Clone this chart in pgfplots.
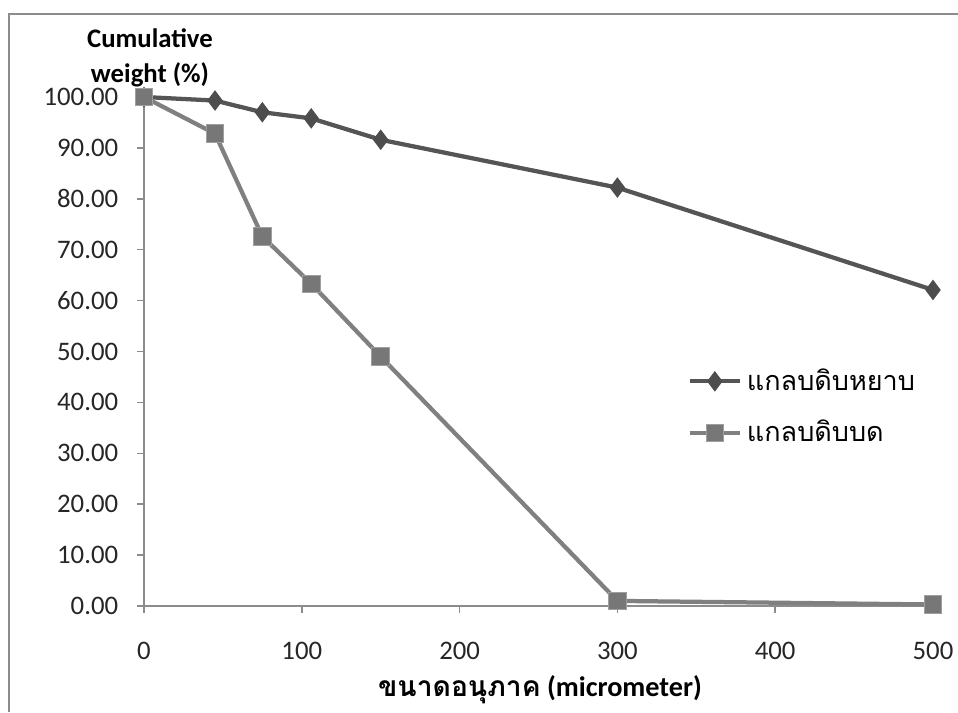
\documentclass[border=0pt]{standalone}
\usepackage{pgfplots}
\pgfplotsset{compat=1.18}
\usepackage{fontspec}
\setmainfont{Carlito}
\newfontfamily\thaifont[Script=Thai]{Loma}
\definecolor{darkser}{HTML}{555555}
\definecolor{darkmark}{HTML}{4D4D4D}
\definecolor{lightser}{HTML}{808080}
\definecolor{lightmark}{HTML}{777777}
\definecolor{axgray}{HTML}{8C8C8C}
\begin{document}
\begin{tikzpicture}
\useasboundingbox (0,0) rectangle (383.2pt,284.8pt);
\draw[axgray, line width=0.8pt] (3.6pt,0) -- (3.6pt,279.2pt) -- (383.2pt,279.2pt);
\begin{axis}[
  at={(57.6pt,42.4pt)}, anchor=south west,
  scale only axis, width=315.6pt, height=203.6pt,
  xmin=0, xmax=500, ymin=0, ymax=100,
  clip=false,
  axis x line=bottom, axis y line=left,
  axis line style={-, draw=axgray, line width=0.6pt},
  tick style={draw=axgray, line width=0.6pt},
  tick align=outside, major tick length=2.8pt,
  xtick={0,100,...,500}, ytick={0,10,...,100},
  font=\fontsize{10.7}{12}\selectfont,
  /pgf/number format/assume math mode=true,
  y tick label style={/pgf/number format/fixed, /pgf/number format/fixed zerofill, /pgf/number format/precision=2},
  yticklabel style={xshift=-4pt, text=black!85},
  xticklabel style={yshift=-8pt, text=black!85},
  scaled y ticks=false,
  xlabel={{\thaifont\bfseries ขนาดอนุภาค} \textbf{(micrometer)}},
  xlabel style={at={(axis description cs:0.502,0)}, anchor=center, yshift=-33.6pt, font=\fontsize{11.3}{13}\selectfont},
  legend style={at={(0.679,0.487)}, anchor=north west, draw=none, fill=none,
    font=\fontsize{10.8}{13}\selectfont\thaifont, row sep=6.5pt},
  legend cell align=left,
  legend image code/.code={\draw[mark repeat=2, mark phase=2] plot coordinates {(0pt,0pt) (10pt,0pt) (20pt,0pt)};},
]
\addplot[color=darkser, line width=1.7pt, mark=diamond*, mark size=3.8pt,
  mark options={fill=darkmark, draw=darkmark, line width=0.4pt}]
  coordinates {(0,100) (45,99.3) (75,97.0) (106,95.8) (150,91.6) (300,82.2) (500,62.1)};
\addlegendentry{แกลบดิบหยาบ}
\addplot[color=lightser, line width=1.7pt, mark=square*, mark size=3.5pt,
  mark options={fill=lightmark, draw=gray!75, line width=0.4pt}]
  coordinates {(0,100) (45,92.8) (75,72.6) (106,63.3) (150,49.0) (300,1.0) (500,0.3)};
\addlegendentry{แกลบดิบบด}
\end{axis}
\node[align=center, font=\fontsize{10.7}{13.8}\selectfont\bfseries] at (60pt,261.6pt) {Cumulative\\weight (\%)};
\end{tikzpicture}
\end{document}
